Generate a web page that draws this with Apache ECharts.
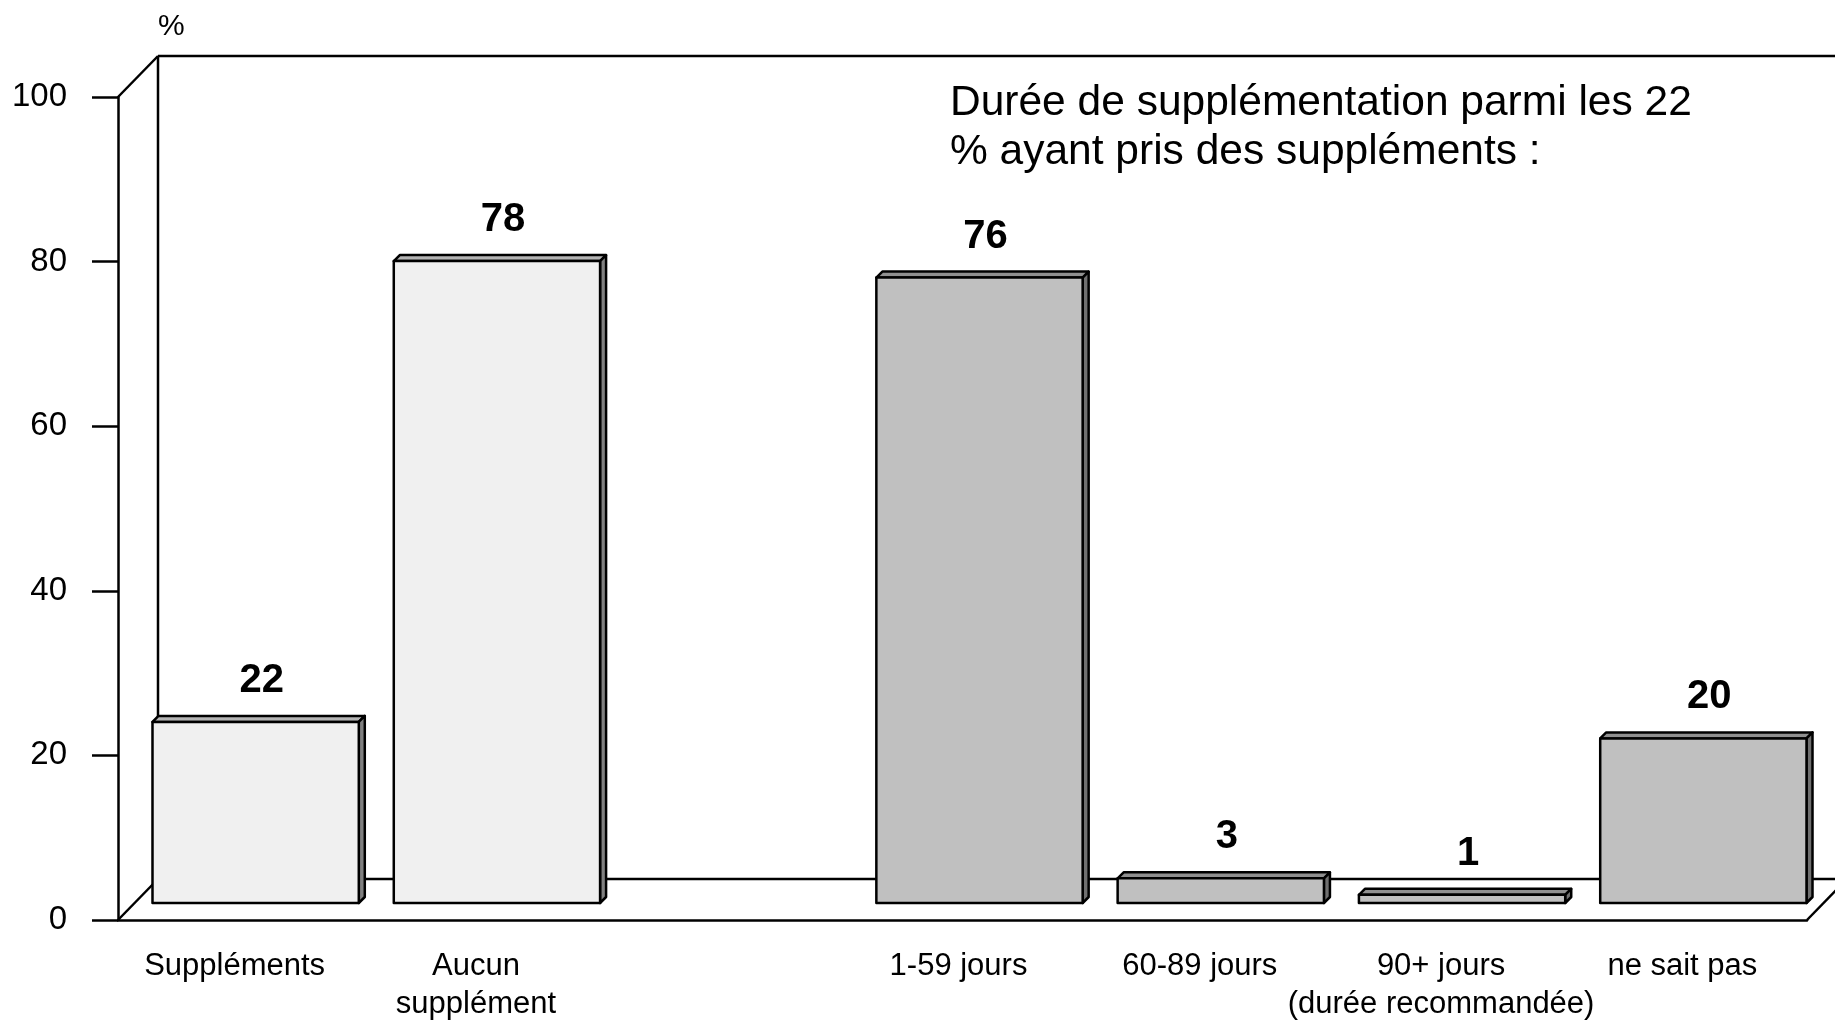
<!DOCTYPE html>
<html>
<head>
<meta charset="utf-8">
<script src="https://cdn.jsdelivr.net/npm/echarts@6/dist/echarts.min.js"></script>
<style>
html,body{margin:0;padding:0;background:#fff;}
#chart{width:1835px;height:1020px;}
</style>
</head>
<body>
<div id="chart"></div>
<script>
const categories = ['Suppléments', 'Aucun\nsupplément', '', '1-59 jours', '60-89 jours', '90+ jours\n(durée recommandée)', 'ne sait pas'];
const values = [22, 78, null, 76, 3, 1, 20];
const groups = ['total', 'total', null, 'duree', 'duree', 'duree', 'duree'];
const yTickValues = [0, 20, 40, 60, 80, 100];
const titleLines = ['Durée de supplémentation parmi les 22', '% ayant pris des suppléments :'];
const unitLabel = '%';

const FONT = '"Liberation Sans", Arial, Helvetica, sans-serif';
const palette = {
  total: { front: '#f0f0f0', top: '#b4b4b4', side: '#808080' },
  duree: { front: '#c0c0c0', top: '#909090', side: '#707070' }
};
const DEPTH_X = 40, DEPTH_Y = 41;   // floor / wall depth
const BAR_D1 = 17, BAR_D2 = 23;     // bar front / back depth
const LW = 2.5;

const barData = [];
values.forEach((v, i) => { if (v !== null) barData.push([i, v]); });

const chart = echarts.init(document.getElementById('chart'), null, { renderer: 'canvas' });

function renderFrame(params, api) {
  const cs = params.coordSys;
  const x0 = cs.x, y0 = cs.y + cs.height, x1 = cs.x + cs.width, yTop = cs.y;
  const st = { stroke: '#000', lineWidth: LW, fill: null };
  const bx = x0 + DEPTH_X, byb = y0 - DEPTH_Y, byt = yTop - DEPTH_Y;
  const farR = 1835 + 60;
  const lines = [
    [[x0, yTop], [bx, byt]],
    [[bx, byt], [farR, byt]],
    [[bx, byt], [bx, byb]],
    [[x0, y0], [bx, byb]],
    [[bx, byb], [x1 + DEPTH_X, byb]],
    [[x1, y0], [x1 + DEPTH_X, byb]]
  ];
  return {
    type: 'group',
    children: lines.map(l => ({
      type: 'line',
      shape: { x1: l[0][0], y1: l[0][1], x2: l[1][0], y2: l[1][1] },
      style: st
    }))
  };
}

function renderBar(params, api) {
  const idx = api.value(0);
  const val = api.value(1);
  const base = api.coord([idx, 0]);
  const top = api.coord([idx, val]);
  const band = api.size([1, 0])[0];
  const w = band * 0.855;
  const xl = base[0] - w / 2, xr = base[0] + w / 2;
  const yb = base[1], yt = top[1];
  const c = palette[groups[idx]];
  const st = { stroke: '#000', lineWidth: LW, lineJoin: 'round' };
  const d1 = BAR_D1, d2 = BAR_D2;
  return {
    type: 'group',
    children: [
      {
        type: 'polygon',
        shape: { points: [[xl + d1, yt - d1], [xr + d1, yt - d1], [xr + d2, yt - d2], [xl + d2, yt - d2]] },
        style: Object.assign({ fill: c.top }, st)
      },
      {
        type: 'polygon',
        shape: { points: [[xr + d1, yt - d1], [xr + d2, yt - d2], [xr + d2, yb - d2], [xr + d1, yb - d1]] },
        style: Object.assign({ fill: c.side }, st)
      },
      {
        type: 'rect',
        shape: { x: xl + d1, y: yt - d1, width: w, height: yb - yt },
        style: Object.assign({ fill: c.front }, st)
      },
      {
        type: 'text',
        style: {
          text: String(val),
          x: base[0] + d2, y: yt - d1 - 41,
          align: 'center', verticalAlign: 'middle',
          font: 'bold 40px ' + FONT, fill: '#000'
        }
      }
    ]
  };
}

chart.setOption({
  backgroundColor: '#fff',
  animation: false,
  grid: { left: 118, right: 28, top: 97, bottom: 100, containLabel: false, outerBoundsMode: 'none' },
  xAxis: {
    type: 'category',
    data: categories,
    axisLine: { show: true, lineStyle: { color: '#000', width: LW } },
    axisTick: { show: false },
    axisLabel: { interval: 0, fontSize: 31, lineHeight: 38, margin: 27, color: '#000', fontFamily: FONT,
      padding: [0, 8, 0, 0] },
    splitLine: { show: false }
  },
  yAxis: {
    type: 'value',
    min: 0, max: 100, interval: 20,
    axisLine: { show: true, lineStyle: { color: '#000', width: LW } },
    axisTick: { show: true, length: 26, lineStyle: { color: '#000', width: LW } },
    axisLabel: {
      fontSize: 33, margin: 51, color: '#000', fontFamily: FONT,
      formatter: v => yTickValues.indexOf(v) >= 0 ? String(v) : ''
    },
    splitLine: { show: false }
  },
  graphic: [
    { type: 'text', left: 158, top: 12, style: { text: unitLabel, font: '30px ' + FONT, fill: '#000' } },
    { type: 'text', left: 950, top: 79, style: { text: titleLines.join('\n'), font: '42.5px ' + FONT, lineHeight: 49, fill: '#000' } }
  ],
  series: [
    { type: 'custom', renderItem: renderFrame, data: [[0, 0]], z: 1, silent: true, clip: false },
    { type: 'custom', renderItem: renderBar, data: barData, z: 2, silent: true, clip: false,
      encode: { x: 0, y: 1 } }
  ]
});
</script>
</body>
</html>
